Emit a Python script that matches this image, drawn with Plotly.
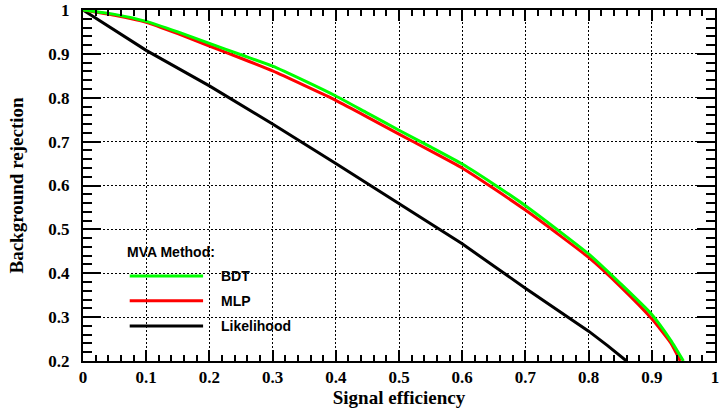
import plotly.graph_objects as go

# ---- data ----
bdt_eff = [0.0, 0.05, 0.1, 0.15, 0.2, 0.25, 0.3, 0.35, 0.4, 0.45, 0.5, 0.55,
           0.6, 0.65, 0.7, 0.75, 0.8, 0.85, 0.9, 0.93, 0.95]
bdt_rej = [1.0, 0.990, 0.974, 0.950, 0.924, 0.898, 0.872, 0.839, 0.804, 0.765,
           0.726, 0.688, 0.649, 0.603, 0.554, 0.500, 0.444, 0.377, 0.306, 0.247, 0.2]

mlp_eff = [0.0, 0.05, 0.1, 0.15, 0.2, 0.25, 0.3, 0.35, 0.4, 0.45, 0.5, 0.55,
           0.6, 0.65, 0.7, 0.75, 0.8, 0.85, 0.9, 0.93, 0.945]
mlp_rej = [1.0, 0.988, 0.972, 0.946, 0.918, 0.890, 0.861, 0.828, 0.794, 0.756,
           0.717, 0.679, 0.640, 0.593, 0.544, 0.491, 0.436, 0.370, 0.296, 0.241, 0.2]

lik_eff = [0.0, 0.1, 0.2, 0.3, 0.4, 0.5, 0.6, 0.7, 0.75, 0.8, 0.83, 0.86]
lik_rej = [1.0, 0.908, 0.827, 0.740, 0.650, 0.558, 0.467, 0.366, 0.317, 0.268, 0.235, 0.2]

series_names = ["BDT", "MLP", "Likelihood"]
series_colors = ["#00ff00", "#ff0000", "#000000"]
legend_title = "MVA Method:"
x_title = "Signal efficiency"
y_title = "Background rejection"

fig = go.Figure()
# draw order: Likelihood, MLP, BDT (BDT on top)
for name, xs, ys, col, shp in zip(series_names[::-1],
                                  [lik_eff, mlp_eff, bdt_eff],
                                  [lik_rej, mlp_rej, bdt_rej],
                                  series_colors[::-1],
                                  ["linear", "spline", "spline"]):
    line = dict(color=col, width=3, shape=shp)
    if shp == "spline":
        line["smoothing"] = 0.5
    fig.add_trace(go.Scatter(x=xs, y=ys, mode="lines", name=name,
                             line=line, showlegend=False))

SERIF = "Liberation Serif"
serif_bold = dict(family=SERIF, size=17, color="black", weight="bold")
title_font = dict(family=SERIF, size=19, color="black", weight="bold")
GRID_DASH = "2px,2px"

fig.update_xaxes(range=[0, 1], dtick=0.1, tick0=0,
                 ticks="inside", ticklen=11, tickwidth=1.5, tickcolor="black",
                 minor=dict(ticks="inside", ticklen=6, dtick=0.02, tickwidth=1.5,
                            tickcolor="black", showgrid=False),
                 showline=True, linewidth=2, linecolor="black", mirror="ticks",
                 showgrid=True, gridcolor="black", gridwidth=1, griddash=GRID_DASH,
                 zeroline=False, tickfont=serif_bold, ticklabeloverflow="allow",
                 title=dict(text=x_title, standoff=4, font=title_font))
fig.update_yaxes(range=[0.2, 1], dtick=0.1, tick0=0,
                 ticks="inside", ticklen=18, tickwidth=1.5, tickcolor="black",
                 minor=dict(ticks="inside", ticklen=9, dtick=0.02, tickwidth=1.5,
                            tickcolor="black", showgrid=False),
                 showline=True, linewidth=2, linecolor="black", mirror="ticks",
                 showgrid=True, gridcolor="black", gridwidth=1, griddash=GRID_DASH,
                 zeroline=False, tickfont=serif_bold, ticklabelstandoff=8,
                 ticklabeloverflow="allow",
                 title=dict(text=y_title, standoff=20, font=title_font))

# manual legend (ROOT-style TLegend)
leg_font = dict(family="Liberation Sans", size=14, color="black", weight="bold")
fig.add_annotation(text=legend_title, xref="paper", yref="paper",
                   x=0.066, y=0.31, xanchor="left", yanchor="middle",
                   showarrow=False, font=leg_font)
leg_y = [0.242, 0.172, 0.100]
for name, col, yy in zip(series_names, series_colors, leg_y):
    fig.add_shape(type="line", xref="paper", yref="paper",
                  x0=0.0739, x1=0.190, y0=yy, y1=yy,
                  line=dict(color=col, width=3))
    fig.add_annotation(text=name, xref="paper", yref="paper",
                       x=0.215, y=yy, xanchor="left", yanchor="middle",
                       showarrow=False, font=leg_font)

fig.update_layout(width=720, height=410,
                  margin=dict(l=83, r=1, t=9, b=49),
                  font=dict(family=SERIF, size=17, color="black", weight="bold"),
                  paper_bgcolor="white", plot_bgcolor="white",
                  showlegend=False)

fig.write_html("out.html")
